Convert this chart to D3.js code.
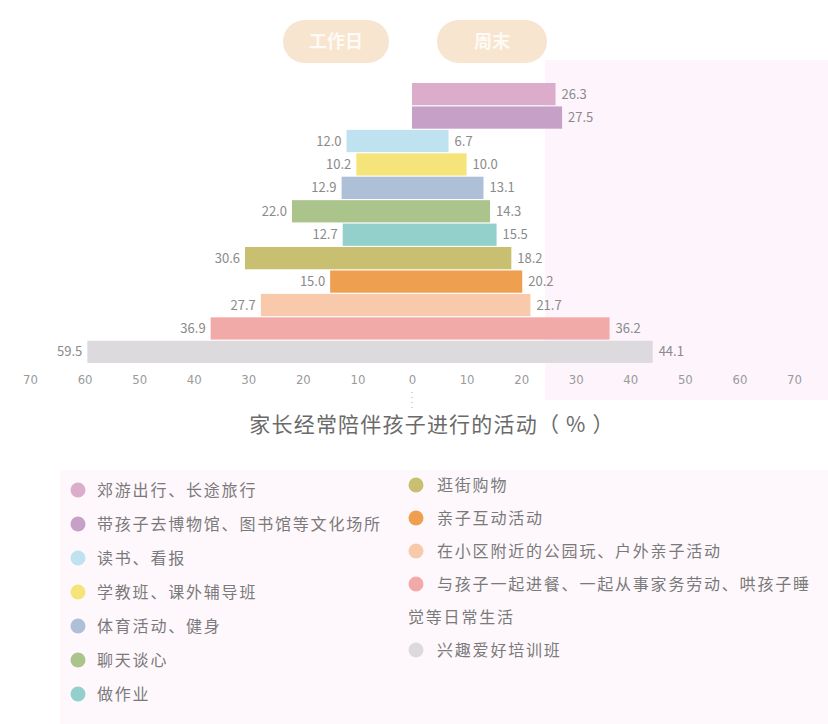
<!DOCTYPE html>
<html>
<head>
<meta charset="utf-8">
<script src="https://cdn.jsdelivr.net/npm/d3@7"></script>
<style>
  html, body { margin: 0; padding: 0; background: #ffffff; }
  svg { display: block; font-family: "Noto Sans CJK SC", "Noto Sans", sans-serif; }
</style>
</head>
<body>
<svg id="chart" width="828" height="724"></svg>
<script>
const categories = [
  "郊游出行、长途旅行",
  "带孩子去博物馆、图书馆等文化场所",
  "读书、看报",
  "学教班、课外辅导班",
  "体育活动、健身",
  "聊天谈心",
  "做作业",
  "逛街购物",
  "亲子互动活动",
  "在小区附近的公园玩、户外亲子活动",
  "与孩子一起进餐、一起从事家务劳动、哄孩子睡觉等日常生活",
  "兴趣爱好培训班"
];
const weekday = [null, null, 12.0, 10.2, 12.9, 22.0, 12.7, 30.6, 15.0, 27.7, 36.9, 59.5];
const weekend = [26.3, 27.5, 6.7, 10.0, 13.1, 14.3, 15.5, 18.2, 20.2, 21.7, 36.2, 44.1];
const colors = ["#dcaccb", "#c6a0c6", "#bfe2f0", "#f4e47a", "#aebfd8", "#aac48c",
                "#93d0cc", "#c8bf70", "#ee9f50", "#f8caab", "#f2aaa8", "#dddadd"];
const leftTicks = [10, 20, 30, 40, 50, 60, 70];
const rightTicks = [0, 10, 20, 30, 40, 50, 60, 70];
const buttons = ["工作日", "周末"];
const axisTitle = "家长经常陪伴孩子进行的活动（ % ）";

const svg = d3.select("#chart");

// faint background washes
svg.append("rect").attr("x", 545).attr("y", 60).attr("width", 283).attr("height", 340).attr("fill", "#fdf4fc");
svg.append("rect").attr("x", 60).attr("y", 470).attr("width", 768).attr("height", 254).attr("fill", "#fef8fd");

const xL = d3.scaleLinear().domain([0, 70]).range([412, 30]);
const xR = d3.scaleLinear().domain([0, 70]).range([412, 794]);
const y = d3.scaleBand().domain(categories).range([83, 363]).paddingInner(0.05);

// pill buttons
const btn = d3.scaleOrdinal().domain(buttons).range([[283, 106], [437, 110]]);
buttons.forEach(b => {
  const [bx, bw] = btn(b);
  svg.append("rect").attr("x", bx).attr("y", 20).attr("width", bw).attr("height", 43)
    .attr("rx", 21.5).attr("fill", "#f7e5d0");
  svg.append("text").attr("x", bx + bw / 2).attr("y", 42).attr("dy", "0.35em")
    .attr("text-anchor", "middle").attr("fill", "#fffaf4").attr("font-size", 18)
    .attr("font-weight", "bold").text(b);
});

// bars
const rows = categories.map((c, i) => ({c, i, wd: weekday[i], we: weekend[i]}));
svg.append("g").selectAll("rect").data(rows.filter(d => d.wd != null)).join("rect")
  .attr("x", d => xL(d.wd)).attr("y", d => y(d.c))
  .attr("width", d => xL(0) - xL(d.wd)).attr("height", y.bandwidth())
  .attr("fill", d => colors[d.i]);
svg.append("g").selectAll("rect").data(rows).join("rect")
  .attr("x", xR(0)).attr("y", d => y(d.c))
  .attr("width", d => xR(d.we) - xR(0)).attr("height", y.bandwidth())
  .attr("fill", d => colors[d.i]);

// value labels
svg.append("g").selectAll("text").data(rows.filter(d => d.wd != null)).join("text")
  .attr("x", d => xL(d.wd) - 5).attr("y", d => y(d.c) + y.bandwidth() / 2).attr("dy", "0.35em")
  .attr("text-anchor", "end").attr("font-size", 13).attr("fill", "#8a8a8a")
  .text(d => d.wd.toFixed(1));
svg.append("g").selectAll("text").data(rows).join("text")
  .attr("x", d => xR(d.we) + 6).attr("y", d => y(d.c) + y.bandwidth() / 2).attr("dy", "0.35em")
  .attr("text-anchor", "start").attr("font-size", 13).attr("fill", "#8a8a8a")
  .text(d => d.we.toFixed(1));

// axes
const axL = svg.append("g").attr("transform", "translate(0,372)")
  .call(d3.axisBottom(xL).tickValues(leftTicks).tickSize(0).tickPadding(3).tickFormat(d3.format("d")));
const axR = svg.append("g").attr("transform", "translate(0,372)")
  .call(d3.axisBottom(xR).tickValues(rightTicks).tickSize(0).tickPadding(3).tickFormat(d3.format("d")));
[axL, axR].forEach(a => {
  a.select(".domain").remove();
  a.selectAll("text").attr("fill", "#9a9a9a").attr("font-size", 13)
    .attr("font-family", "'Liberation Sans Narrow', 'DejaVu Sans Condensed', sans-serif");
});
svg.append("line").attr("x1", xR(0)).attr("x2", xR(0)).attr("y1", 392).attr("y2", 410)
  .attr("stroke", "#aaa").attr("stroke-dasharray", "1,4");

// axis title
svg.append("text").attr("x", 432).attr("y", 425).attr("dy", "0.35em").attr("text-anchor", "middle")
  .attr("font-size", 21).attr("letter-spacing", 1.2).attr("fill", "#6a6a6a").text(axisTitle);

// legend
const legend = svg.append("g").attr("font-size", 16).attr("fill", "#7a7a7a");
function addItem(i, dx, ty, textX, wrapX, maxX, lineH) {
  legend.append("circle").attr("cx", dx).attr("cy", ty).attr("r", 7.5).attr("fill", colors[i]);
  const t = legend.append("text").attr("x", textX).attr("y", ty).attr("dy", "0.35em")
    .attr("letter-spacing", 1.8);
  const chars = Array.from(categories[i]);
  let line = "";
  let ts = t.append("tspan").attr("x", textX);
  let lines = 1;
  for (const ch of chars) {
    ts.text(line + ch);
    if (textX + ts.node().getComputedTextLength() > maxX && line.length) {
      ts.text(line);
      line = ch;
      ts = t.append("tspan").attr("x", wrapX).attr("dy", lineH).text(line);
      lines++;
    } else {
      line += ch;
    }
  }
  return lines;
}
for (let i = 0; i < 7; i++) addItem(i, 78, 490 + i * 34, 97, 70, 400, 34);
let ry = 485;
for (let i = 7; i < 12; i++) {
  const n = addItem(i, 416, ry, 437, 408, 822, 33);
  ry += 33 * n;
}
</script>
</body>
</html>
